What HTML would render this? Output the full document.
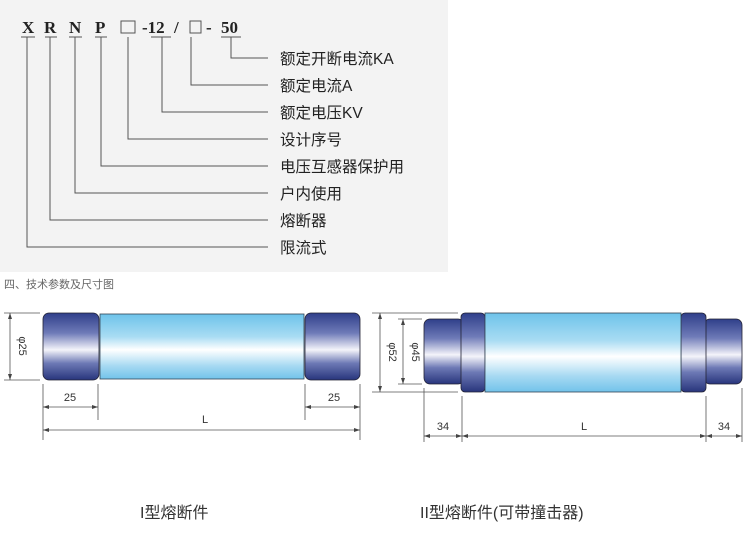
<!DOCTYPE html>
<html><head><meta charset="utf-8"><style>
html,body{margin:0;padding:0;background:#fff;}
svg{display:block;font-family:"Liberation Sans","Noto Sans CJK SC",sans-serif;}
</style></head><body>
<svg width="750" height="551" viewBox="0 0 750 551" xmlns="http://www.w3.org/2000/svg">
<defs>
<linearGradient id="cap" x1="0" y1="0" x2="0" y2="1">
<stop offset="0" stop-color="#2f3f8a"/><stop offset="0.3" stop-color="#6f7bb8"/><stop offset="0.55" stop-color="#f4f4fa"/><stop offset="0.75" stop-color="#6d79b5"/><stop offset="1" stop-color="#28357c"/>
</linearGradient>
<linearGradient id="body" x1="0" y1="0" x2="0" y2="1">
<stop offset="0" stop-color="#6ec3ea"/><stop offset="0.35" stop-color="#a9dcf3"/><stop offset="0.55" stop-color="#ffffff"/><stop offset="0.8" stop-color="#a6d9f2"/><stop offset="1" stop-color="#72c3ea"/>
</linearGradient>
</defs>
<rect x="0" y="0" width="448" height="272" fill="#f3f3f3"/>
<g font-family="Liberation Serif,serif" font-size="17" fill="#222" font-weight="600">
<text x="22" y="33">X</text><text x="44" y="33">R</text><text x="69" y="33">N</text><text x="95" y="33">P</text>
<text x="142" y="33">-12</text><text x="174" y="33">/</text><text x="206" y="33">-</text><text x="221" y="33">50</text>
</g>
<g fill="none" stroke="#555" stroke-width="1">
<rect x="121" y="21" width="14" height="12"/><rect x="190" y="21" width="11" height="12"/>
<path d="M21 37h14M45 37h12M69 37h13M95 37h12M151 37h20M221 37h20"/>
<path d="M231 37V58H268M191 37V85H268M162 37V112H268M128 37V139H268M101 37V166H268M75 37V193H268M50 37V220H268M27 37V247H268"/>
</g>
<g font-size="15.5" fill="#222">
<text x="280" y="64">额定开断电流KA</text>
<text x="280" y="91">额定电流A</text>
<text x="280" y="118">额定电压KV</text>
<text x="280" y="145">设计序号</text>
<text x="280" y="172">电压互感器保护用</text>
<text x="280" y="199">户内使用</text>
<text x="280" y="226">熔断器</text>
<text x="280" y="253">限流式</text>
</g>
<text x="4" y="288" font-size="11" fill="#666">四、技术参数及尺寸图</text>

<rect x="43" y="313" width="56" height="67" rx="6" fill="url(#cap)" stroke="#223" stroke-width="0.8"/>
<rect x="305" y="313" width="55" height="67" rx="6" fill="url(#cap)" stroke="#223" stroke-width="0.8"/>
<rect x="100" y="314" width="204" height="65" fill="url(#body)" stroke="#345" stroke-width="0.8"/>
<g stroke="#555" stroke-width="0.8" fill="none">
<path d="M4 313H40M4 380H40M10 313V380"/>
<path d="M43 384V440M98 384V420M305 384V420M360 384V440"/>
<path d="M43 407H98M305 407H360M43 430H360"/>
</g>
<g fill="#444">
<path d="M10 313l-2 6h4zM10 380l-2-6h4z"/>
<path d="M43 407l6-2v4zM98 407l-6-2v4zM305 407l6-2v4zM360 407l-6-2v4zM43 430l6-2v4zM360 430l-6-2v4z"/>
</g>
<text x="19" y="346" font-size="11" fill="#333" transform="rotate(90 19 346)" text-anchor="middle">φ25</text>
<g font-size="11" fill="#333" text-anchor="middle"><text x="70" y="401">25</text><text x="334" y="401">25</text><text x="205" y="423">L</text></g>

<rect x="424" y="319" width="40" height="65" rx="6" fill="url(#cap)" stroke="#223" stroke-width="0.8"/>
<rect x="704" y="319" width="38" height="65" rx="6" fill="url(#cap)" stroke="#223" stroke-width="0.8"/>
<rect x="461" y="313" width="24" height="79" rx="4" fill="url(#cap)" stroke="#223" stroke-width="0.8"/>
<rect x="681" y="313" width="25" height="79" rx="4" fill="url(#cap)" stroke="#223" stroke-width="0.8"/>
<rect x="485" y="313" width="196" height="79" fill="url(#body)" stroke="#345" stroke-width="0.8"/>
<g stroke="#555" stroke-width="0.8" fill="none">
<path d="M372 313H458M372 392H458M380 313V392M398 319H422M398 384H422M403 319V384"/>
<path d="M424 388V442M462 396V442M706 396V442M742 388V442"/>
<path d="M424 436H462M462 436H706M706 436H742"/>
</g>
<g fill="#444">
<path d="M380 313l-2 6h4zM380 392l-2-6h4zM403 319l-2 6h4zM403 384l-2-6h4z"/>
<path d="M424 436l6-2v4zM462 436l-6-2v4zM462 436l6-2v4zM706 436l-6-2v4zM706 436l6-2v4zM742 436l-6-2v4z"/>
</g>
<text x="389" y="352" font-size="11" fill="#333" transform="rotate(90 389 352)" text-anchor="middle">φ52</text>
<text x="412" y="352" font-size="11" fill="#333" transform="rotate(90 412 352)" text-anchor="middle">φ45</text>
<g font-size="11" fill="#333" text-anchor="middle"><text x="443" y="430">34</text><text x="724" y="430">34</text><text x="584" y="430">L</text></g>

<g font-size="16" fill="#333">
<text x="140" y="518">I型熔断件</text>
<text x="420" y="518">II型熔断件(可带撞击器)</text>
</g>
</svg>
</body></html>
